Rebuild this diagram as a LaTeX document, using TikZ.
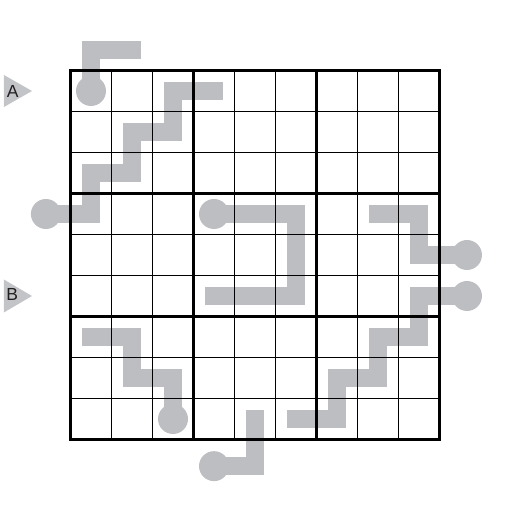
\documentclass[tikz,border=0pt]{standalone}
\usepackage{fontspec}
\setmainfont{Liberation Sans}
\definecolor{pathgray}{HTML}{BDBEC1}
\definecolor{arrowgray}{HTML}{C3C4C7}
\definecolor{labelink}{HTML}{231F20}
\begin{document}
\begin{tikzpicture}[x=41pt,y=-41pt,
  pipe/.style={draw=pathgray,line width=18pt,line cap=rect,line join=miter},
  knob/.style={circle,fill=pathgray,draw=none,minimum size=30pt,inner sep=0pt},
  thinline/.style={line width=1.5pt,black},
  thickline/.style={line width=3.4pt,black,line cap=rect},
  marker/.style={fill=arrowgray,draw=none},
  markerlabel/.style={font=\fontsize{17.5}{17.5}\selectfont,text=labelink,inner sep=0pt}]
\useasboundingbox (-70.5pt,70.5pt) rectangle (440.5pt,-439.5pt);
% knobs (end circles)
\node[knob] (k1) at (0.5,0.5) {};
\node[knob] (k2) at (-0.6,3.5) {};
\node[knob] (k3) at (3.5,3.5) {};
\node[knob] (k4) at (9.67,4.5) {};
\node[knob] (k5) at (9.67,5.5) {};
\node[knob] (k6) at (2.5,8.5) {};
\node[knob] (k7) at (3.5,9.65) {};
% free ends
\coordinate (e1) at (1.5,-0.5);
\coordinate (e2) at (3.5,0.5);
\coordinate (e3) at (3.5,5.5);
\coordinate (e4) at (7.5,3.5);
\coordinate (e5) at (5.5,8.5);
\coordinate (e6) at (0.5,6.5);
\coordinate (e7) at (4.5,8.5);
% pipes
\draw[pipe] (k1.center) -- (0.5,-0.5) -- (e1);
\draw[pipe] (k2.center) -- (0.5,3.5) -- (0.5,2.5) -- (1.5,2.5) -- (1.5,1.5) -- (2.5,1.5) -- (2.5,0.5) -- (e2);
\draw[pipe] (k3.center) -- (5.5,3.5) -- (5.5,5.5) -- (e3);
\draw[pipe] (e4) -- (8.5,3.5) -- (8.5,4.5) -- (k4.center);
\draw[pipe] (k5.center) -- (8.5,5.5) -- (8.5,6.5) -- (7.5,6.5) -- (7.5,7.5) -- (6.5,7.5) -- (6.5,8.5) -- (e5);
\draw[pipe] (e6) -- (1.5,6.5) -- (1.5,7.5) -- (2.5,7.5) -- (k6.center);
\draw[pipe] (k7.center) -- (4.5,9.65) -- (e7);
% grid
\foreach \i in {1,2,4,5,7,8} {
  \draw[thinline] (\i,0) -- (\i,9);
  \draw[thinline] (0,\i) -- (9,\i);
}
\foreach \i in {0,3,6,9} {
  \draw[thickline] (\i,0) -- (\i,9);
  \draw[thickline] (0,\i) -- (9,\i);
}
% markers
\fill[marker] (-1.622,0.11) -- (-0.939,0.5) -- (-1.622,0.89) -- cycle;
\fill[marker] (-1.622,5.1) -- (-0.939,5.5) -- (-1.622,5.9) -- cycle;
\node[markerlabel] (la) at (-1.41,0.5) {A};
\node[markerlabel] (lb) at (-1.42,5.46) {B};
\end{tikzpicture}
\end{document}
